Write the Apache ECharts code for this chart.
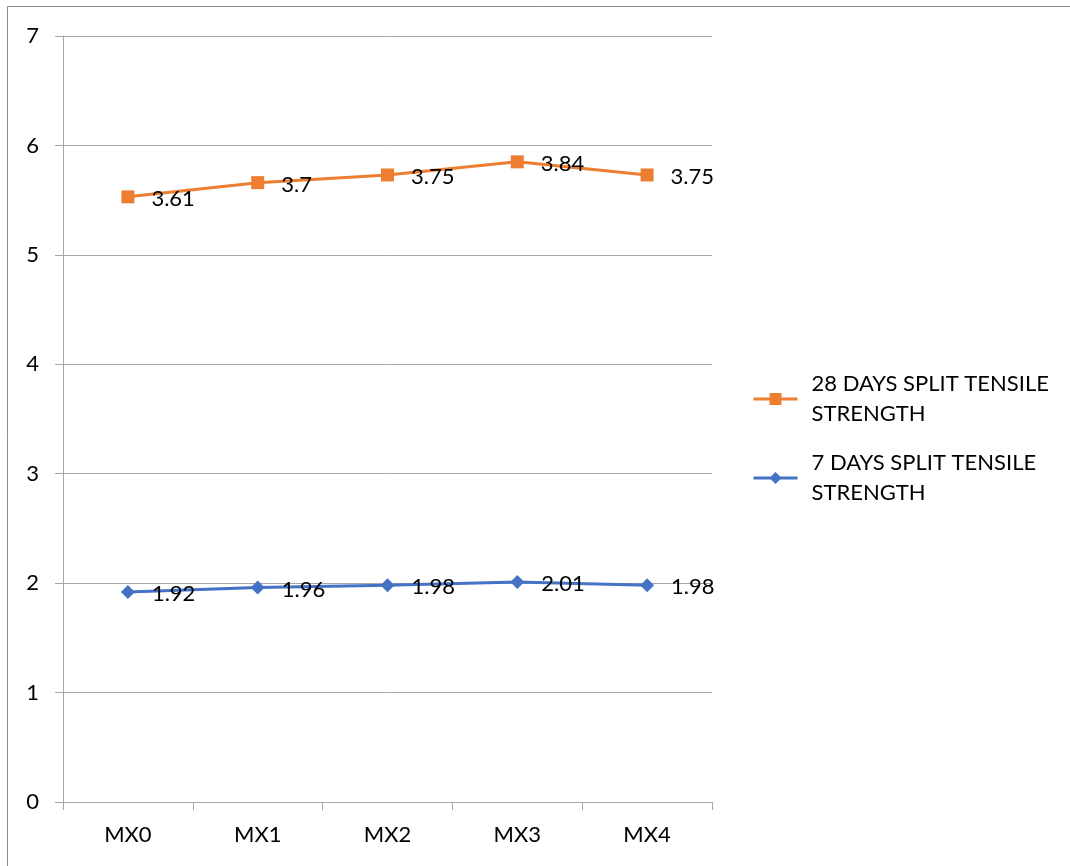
<!DOCTYPE html>
<html>
<head>
<meta charset="utf-8">
<style>
  html, body { margin: 0; padding: 0; background: #fff; }
  #chart { width: 1070px; height: 866px; }
</style>
<script src="https://cdn.jsdelivr.net/npm/echarts@6/dist/echarts.min.js"></script>
</head>
<body>
<div id="chart"></div>
<script>
// Mix designations along the x axis
const categories = ['MX0', 'MX1', 'MX2', 'MX3', 'MX4'];
// Split tensile strength results (stacked: 28-day sits on top of 7-day)
const days7 = [1.92, 1.96, 1.98, 2.01, 1.98];
const days28 = [3.61, 3.70, 3.75, 3.84, 3.75];
const yTicks = [0, 1, 2, 3, 4, 5, 6, 7];

const FONT = 'Lato, "Open Sans", sans-serif';
const FS = 22;

const chart = echarts.init(document.getElementById('chart'), null, { renderer: 'canvas' });

const labelStyle = {
  show: true,
  position: 'right',
  distance: 17,
  offset: [0, 2],
  color: '#000',
  fontSize: FS,
  fontFamily: FONT
};

chart.setOption({
  animation: false,
  backgroundColor: '#fff',
  graphic: [{
    type: 'rect',
    shape: { x: 7.5, y: 6.5, width: 1100, height: 900 },
    style: { fill: 'none', stroke: '#8c8c8c', lineWidth: 1 },
    silent: true,
    z: -1
  }],
  grid: { left: 63, right: 358, top: 36, bottom: 64 },
  legend: {
    orient: 'vertical',
    left: 752,
    top: 354,
    padding: 0,
    itemWidth: 44,
    itemHeight: 15,
    itemGap: -11,
    lineStyle: { width: 3 },
    data: ['28 DAYS SPLIT TENSILE STRENGTH', '7 DAYS SPLIT TENSILE STRENGTH'],
    formatter: function (name) {
      return name.replace(' STRENGTH', '\nSTRENGTH');
    },
    textStyle: {
      color: '#000',
      fontSize: FS,
      fontFamily: FONT,
      lineHeight: 30,
      padding: [30, 0, 0, 9]
    }
  },
  xAxis: {
    type: 'category',
    data: categories,
    boundaryGap: true,
    axisLine: { lineStyle: { color: '#a6a6a6', width: 1 } },
    axisTick: { show: true, length: 8, lineStyle: { color: '#a6a6a6' } },
    axisLabel: { color: '#000', fontSize: FS, fontFamily: FONT, margin: 22 },
    splitLine: { show: false }
  },
  yAxis: {
    type: 'value',
    min: yTicks[0],
    max: yTicks[yTicks.length - 1],
    interval: 1,
    axisLine: { show: true, lineStyle: { color: '#a6a6a6', width: 1 } },
    axisTick: { show: true, inside: false, length: 8, lineStyle: { color: '#a6a6a6' } },
    axisLabel: { color: '#000', fontSize: FS, fontFamily: FONT, margin: 24 },
    splitLine: { show: true, lineStyle: { color: '#a6a6a6', width: 1 } }
  },
  series: [
    {
      name: '7 DAYS SPLIT TENSILE STRENGTH',
      type: 'line',
      stack: 'strength',
      data: days7,
      symbol: 'diamond',
      symbolSize: 14,
      lineStyle: { color: '#4472C4', width: 3 },
      itemStyle: { color: '#4472C4' },
      label: labelStyle
    },
    {
      name: '28 DAYS SPLIT TENSILE STRENGTH',
      type: 'line',
      stack: 'strength',
      data: days28,
      symbol: 'rect',
      symbolSize: 13,
      lineStyle: { color: '#ED7D31', width: 3 },
      itemStyle: { color: '#ED7D31' },
      label: labelStyle
    }
  ]
});
</script>
</body>
</html>
